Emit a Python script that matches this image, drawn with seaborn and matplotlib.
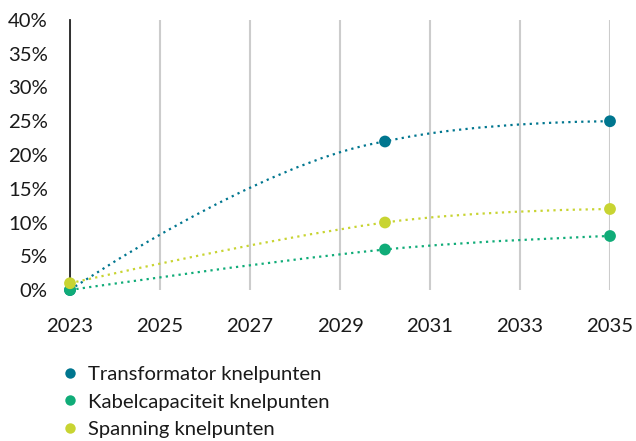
import pandas as pd
import matplotlib
matplotlib.use("Agg")
import matplotlib.pyplot as plt
from matplotlib.path import Path
from matplotlib.patches import PathPatch
from matplotlib.lines import Line2D
import seaborn as sns

# ==========================================================
# DATA
# ==========================================================

years = [2023, 2030, 2035]
transformator = [0, 22, 25]
kabelcapaciteit = [0, 6, 8]
spanning = [1, 10, 12]

series_names = [
    "Transformator knelpunten",
    "Kabelcapaciteit knelpunten",
    "Spanning knelpunten",
]
series_values = [transformator, kabelcapaciteit, spanning]
colors = ["#00768F", "#10AC78", "#C8D432"]

x_ticks = [2023, 2025, 2027, 2029, 2031, 2033, 2035]
y_ticks = [0, 5, 10, 15, 20, 25, 30, 35, 40]

df = pd.DataFrame({
    "year": years * 3,
    "value": transformator + kabelcapaciteit + spanning,
    "series": [n for n in series_names for _ in years],
})


# smooth curve through the points (cubic bezier, spline style)
def spline_path(xs, ys, smoothing=1.5):
    n = len(xs)
    left = [(x, y) for x, y in zip(xs, ys)]
    right = [(x, y) for x, y in zip(xs, ys)]
    d = smoothing + 1
    for i in range(1, n - 1):
        px, py = xs[i], ys[i]
        lx = (smoothing * px + xs[i - 1]) / d
        ly = (smoothing * py + ys[i - 1]) / d
        rx = (smoothing * px + xs[i + 1]) / d
        ry = (smoothing * py + ys[i + 1]) / d
        if rx != lx:
            corr = (ry - ly) * (rx - px) / (rx - lx) + py - ry
            ly += corr
            ry += corr
        last_y, next_y = ys[i - 1], ys[i + 1]
        if ly > last_y and ly > py:
            ly = max(last_y, py)
            ry = 2 * py - ly
        elif ly < last_y and ly < py:
            ly = min(last_y, py)
            ry = 2 * py - ly
        if ry > next_y and ry > py:
            ry = max(next_y, py)
            ly = 2 * py - ry
        elif ry < next_y and ry < py:
            ry = min(next_y, py)
            ly = 2 * py - ry
        left[i] = (lx, ly)
        right[i] = (rx, ry)
    verts = [(xs[0], ys[0])]
    codes = [Path.MOVETO]
    for i in range(1, n):
        verts += [right[i - 1], left[i], (xs[i], ys[i])]
        codes += [Path.CURVE4] * 3
    return Path(verts, codes)


# ==========================================================
# PLOT
# ==========================================================

sns.set_style("white")
plt.rcParams["font.family"] = ["Lato", "DejaVu Sans"]

fs = 14.6

fig = plt.figure(figsize=(6.36, 4.41), dpi=100)
ax = fig.add_axes([70 / 636, 151 / 441, 540 / 636, 270 / 441])

for vals, color in zip(series_values, colors):
    patch = PathPatch(
        spline_path(years, vals),
        facecolor="none",
        edgecolor=color,
        lw=1.6,
        linestyle=(0, (1, 1.9)),
        zorder=3,
    )
    ax.add_patch(patch)

sns.scatterplot(
    data=df,
    x="year",
    y="value",
    hue="series",
    palette=colors,
    s=72,
    edgecolor="none",
    legend=False,
    clip_on=False,
    zorder=4,
    ax=ax,
)

ax.set_xlim(2023, 2035)
ax.set_ylim(0, 40)
ax.set_xticks(x_ticks)
ax.set_yticks(y_ticks)
ax.set_yticklabels([f"{v}%" for v in y_ticks])
ax.set_xlabel("")
ax.set_ylabel("")

ax.grid(axis="x", color="#cccccc", lw=1.5, zorder=0)
ax.grid(axis="y", visible=False)
ax.set_axisbelow(True)

for side in ["top", "right", "bottom"]:
    ax.spines[side].set_visible(False)
ax.spines["left"].set_color("#222222")
ax.spines["left"].set_linewidth(1.3)
ax.spines["left"].set_zorder(2)

ax.tick_params(axis="y", length=0, pad=16, labelsize=fs, labelcolor="#1a1a1a")
ax.tick_params(axis="x", length=0, pad=20, labelsize=fs, labelcolor="#1a1a1a")

handles = [
    Line2D([], [], marker="o", linestyle="none", markersize=7.5,
           markerfacecolor=c, markeredgecolor="none")
    for c in colors
]
fig.legend(
    handles,
    series_names,
    loc="upper left",
    bbox_to_anchor=(64 / 636, 1 - 366 / 441),
    frameon=False,
    fontsize=fs,
    handlelength=0.6,
    handletextpad=0.6,
    labelspacing=0.5,
    borderpad=0,
    borderaxespad=0,
    labelcolor="#1a1a1a",
)

fig.savefig("out.png", dpi=100)
